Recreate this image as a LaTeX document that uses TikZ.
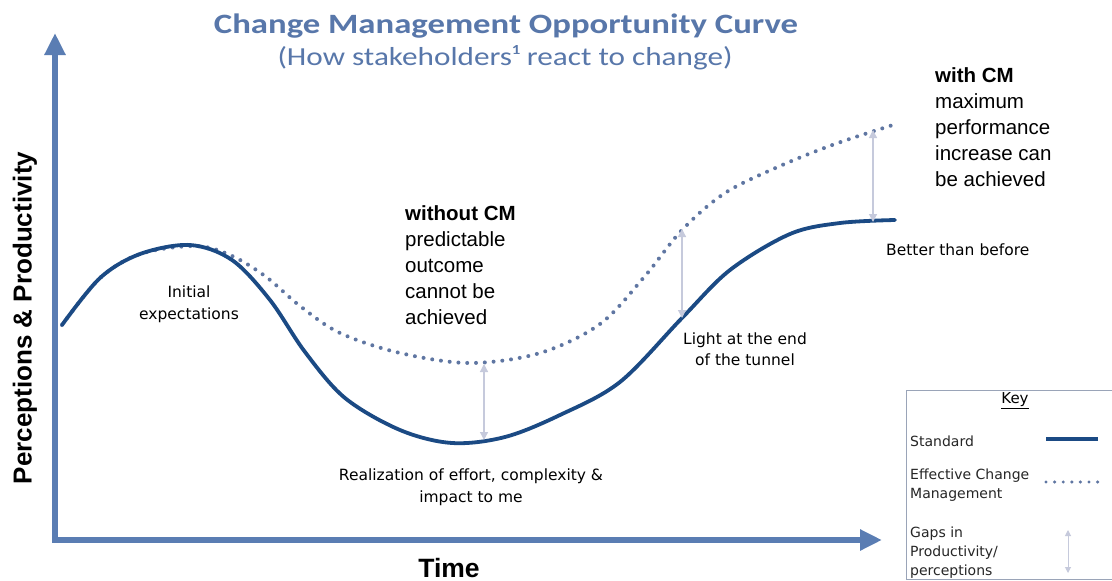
\documentclass[tikz,border=0pt]{standalone}
\usepackage{fontspec}
\setmainfont{Liberation Sans}
\newfontfamily\titlefont{Carlito}
\newfontfamily\notefont{DejaVu Sans}
\usetikzlibrary{arrows.meta}
\definecolor{axisblue}{HTML}{5A7DB3}
\definecolor{titleblue}{HTML}{5877AA}
\definecolor{stdnavy}{HTML}{1B4A84}
\definecolor{cmdots}{HTML}{5F76A2}
\definecolor{gapgray}{HTML}{C6CADC}
\definecolor{keyborder}{HTML}{9AA4B8}
\tikzset{
  axis/.style={line width=6pt, axisblue, -{Triangle[length=22pt,width=20pt]}},
  stdcurve/.style={line width=3.8pt, stdnavy, line cap=round},
  cmcurve/.style={line width=4pt, cmdots, line cap=round, dash pattern=on 0pt off 8.8pt},
  gaparrow/.style={line width=1.2pt, gapgray, {Triangle[length=8pt,width=8pt]}-{Triangle[length=8pt,width=8pt]}},
  note/.style={font=\notefont\fontsize{15.5}{21.5}\selectfont, align=center, inner sep=0pt},
  callout/.style={font=\fontsize{20.5}{26}\selectfont, align=left, inner sep=0pt, anchor=north west},
  keytext/.style={font=\notefont\fontsize{14}{19}\selectfont, align=left, inner sep=0pt, anchor=west, text=black!85},
}
\begin{document}
\begin{tikzpicture}[x=1pt, y=-1pt]
\useasboundingbox (0,0) rectangle (1112,581);
\fill[white] (0,0) rectangle (1112,581);

% title
\node[font=\titlefont\bfseries\fontsize{28}{32}\selectfont, text=titleblue, inner sep=0pt] (title) at (506,26) {\scalebox{1.24}[1]{Change Management Opportunity Curve}};
\node[font=\titlefont\fontsize{26}{30}\selectfont, text=titleblue, inner sep=0pt] (subtitle) at (505,58) {\scalebox{1.2}[1]{(How stakeholders¹ react to change)}};

% axes
\coordinate (origin) at (55,540);
\coordinate (ytip) at (55,33);
\coordinate (xtip) at (882,540);
\draw[axis] (origin) -- (ytip);
\draw[axis] ([xshift=-3pt]origin) -- (xtip);
\node[font=\bfseries\fontsize{26}{30}\selectfont, rotate=90, inner sep=0pt] (ylabel) at (25,318) {Perceptions \& Productivity};
\node[font=\bfseries\fontsize{26.5}{30}\selectfont, inner sep=0pt] (xlabel) at (449,568) {Time};

% curve with change management (dotted)
\draw[cmcurve] plot[smooth, tension=0.55] coordinates {
  (62,325) (100,278) (140,254) (195,246) (230,255) (265,276) (300,306) (340,333)
  (400,353) (470,363) (540,353) (600,324) (645,276) (682,230) (725,193)
  (780,166) (835,144) (893,125)};

% standard curve (solid)
\draw[stdcurve] plot[smooth, tension=0.55] coordinates {
  (62,325) (100,278) (140,254) (190,245) (232,260) (270,300) (305,352) (345,398)
  (400,430) (452,443) (505,437) (560,415) (620,382) (682,318) (730,270)
  (790,234) (840,223) (895,220)};

% gaps between the curves
\coordinate (g1a) at (484,364); \coordinate (g1b) at (484,440);
\coordinate (g2a) at (682,229); \coordinate (g2b) at (682,318);
\coordinate (g3a) at (873,130); \coordinate (g3b) at (873,222);
\draw[gaparrow] (g1a) -- (g1b);
\draw[gaparrow] (g2a) -- (g2b);
\draw[gaparrow] (g3a) -- (g3b);

% labels along the curves
\node[note] (initial) at (189,304) {Initial\\expectations};
\node[note] (realize) at (471,487) {Realization of effort, complexity \&\\impact to me};
\node[note] (light) at (745,349) {Light at the end\\of the tunnel};
\node[note, anchor=west] (better) at (886,250) {Better than before};

\node[callout] (without) at (405,205) {\textbf{without CM}\\predictable\\outcome\\cannot be\\achieved};
\node[callout] (with) at (935,67) {\textbf{with CM}\\maximum\\performance\\increase can\\be achieved};

% key
\draw[keyborder, line width=1pt] (1120,390) -- (906,390) -- (906,579) -- (1120,579);
\node[font=\notefont\fontsize{15}{18}\selectfont, inner sep=0pt] (keytitle) at (1015,401) {\underline{Key}};
\node[keytext] (kstd) at (910,441) {Standard};
\node[keytext] (kcm) at (910,485) {Effective Change\\Management};
\node[keytext] (kgap) at (910,553) {Gaps in\\Productivity/\\perceptions};
\coordinate (ks1) at (1046,439); \coordinate (ks2) at (1098,439);
\coordinate (kc1) at (1046,482); \coordinate (kc2) at (1098,482);
\coordinate (kg1) at (1068,530); \coordinate (kg2) at (1068,573);
\draw[line width=3.8pt, stdnavy] (ks1) -- (ks2);
\draw[line width=3.4pt, cmdots, line cap=round, dash pattern=on 0pt off 8.6pt] (kc1) -- (kc2);
\draw[gaparrow, line width=1pt, {Triangle[length=6pt,width=6pt]}-{Triangle[length=6pt,width=6pt]}] (kg1) -- (kg2);
\end{tikzpicture}
\end{document}
